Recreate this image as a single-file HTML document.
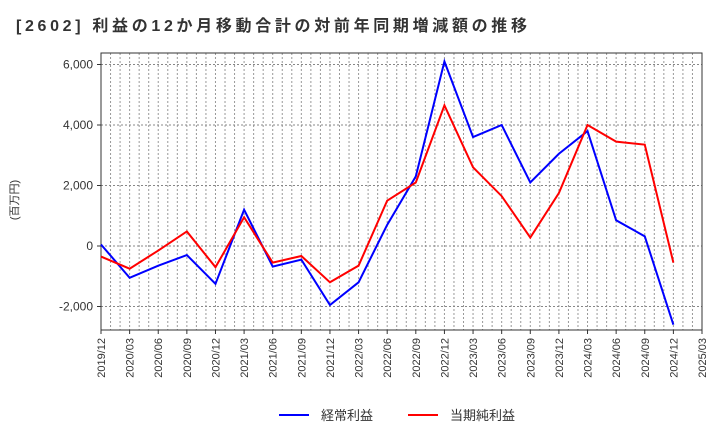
<!DOCTYPE html>
<html><head><meta charset="utf-8"><style>
body{margin:0;background:#fff;font-family:"Liberation Sans","Noto Sans CJK JP",sans-serif;}
</style></head><body>
<svg id="c" width="720" height="440" xmlns="http://www.w3.org/2000/svg">
<text x="16" y="31" font-size="16" font-weight="bold" fill="#333" textLength="511" lengthAdjust="spacing" font-family="Liberation Sans, Noto Sans CJK JP, sans-serif">[2602]  利益の12か月移動合計の対前年同期増減額の推移</text>
<text transform="translate(18,200) rotate(-90)" font-size="11" fill="#333" text-anchor="middle" font-family="Liberation Sans, Noto Sans CJK JP, sans-serif">(百万円)</text>
<g id="grid"></g><g id="axes"></g><g id="series"></g>
<g>
<line x1="279" y1="415" x2="309" y2="415" stroke="#0000ff" stroke-width="2"/>
<text x="321" y="420" font-size="13" fill="#333" font-family="Liberation Sans, Noto Sans CJK JP, sans-serif">経常利益</text>
<line x1="408" y1="415" x2="438" y2="415" stroke="#ff0000" stroke-width="2"/>
<text x="450" y="420" font-size="13" fill="#333" font-family="Liberation Sans, Noto Sans CJK JP, sans-serif">当期純利益</text>
</g>
</svg>
<script>
const categories=["2019/12","2020/03","2020/06","2020/09","2020/12","2021/03","2021/06","2021/09","2021/12","2022/03","2022/06","2022/09","2022/12","2023/03","2023/06","2023/09","2023/12","2024/03","2024/06","2024/09","2024/12","2025/03"];
const ordinaryProfit=[50,-1050,-650,-300,-1250,1200,-680,-450,-1950,-1200,700,2300,6100,3600,4000,2100,3050,3800,850,320,-2600];
const netProfit=[-350,-750,-150,480,-700,950,-550,-330,-1200,-650,1500,2100,4650,2600,1650,280,1750,4000,3450,3350,-550];
const yTicks=[-2000,0,2000,4000,6000];
const NS="http://www.w3.org/2000/svg";
const L=101,R=702,T=53,B=330;
const x=i=>L+(R-L)*i/(categories.length-1);
const y=v=>246-v*(246-64.5)/6000;
function mk(tag,attrs,parent){const e=document.createElementNS(NS,tag);for(const k in attrs)e.setAttribute(k,attrs[k]);parent.appendChild(e);return e;}
const grid=document.getElementById('grid'),axes=document.getElementById('axes'),ser=document.getElementById('series');
const months=(categories.length-1)*3;
for(let m=1;m<months;m++){const xx=L+(R-L)*m/months;const g=mk('line',{x1:xx,x2:xx,y1:T,y2:B,stroke:'#999','stroke-dasharray':'2,2','stroke-width':1},grid);

}
yTicks.forEach(v=>{const g=mk('line',{x1:L,x2:R,y1:y(v),y2:y(v),stroke:'#888','stroke-dasharray':'2,2','stroke-width':1},grid);


const t=mk('text',{x:L-8,y:y(v)+4,'text-anchor':'end','font-size':12,fill:'#333'},axes);t.textContent=v.toLocaleString('en-US');


mk('line',{x1:L-4,x2:L,y1:y(v),y2:y(v),stroke:'#333'},axes);});
const fr=mk('rect',{x:L,y:T,width:R-L,height:B-T,fill:'none',stroke:'#333'},axes);


categories.forEach((c,i)=>{mk('line',{x1:x(i),x2:x(i),y1:B,y2:B+4,stroke:'#333'},axes);
const t=mk('text',{transform:`translate(${x(i)+4},${B+8}) rotate(-90)`,'text-anchor':'end','font-size':11,fill:'#333'},axes);t.textContent=c;

});
function line(d,col,name){const p=mk('polyline',{points:d.map((v,i)=>x(i)+','+y(v)).join(' '),fill:'none',stroke:col,'stroke-width':2},ser);

}
line(ordinaryProfit,'#0000ff','ordinary-profit-line');
line(netProfit,'#ff0000','net-profit-line');
</script>
</body></html>
